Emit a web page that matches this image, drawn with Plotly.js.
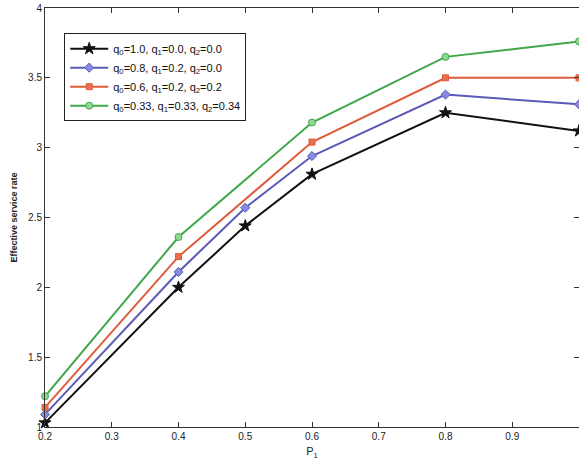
<!DOCTYPE html>
<html><head><meta charset="utf-8">
<script src="https://cdn.plot.ly/plotly-3.0.1.min.js"></script>
<style>body{margin:0;padding:0;background:#fff}#chart{width:579px;height:467px}</style>
</head><body><div id="chart"></div>
<script>
const xFull = [0.2, 0.4, 0.5, 0.6, 0.8, 1.0];
const xSparse = [0.2, 0.4, 0.6, 0.8, 1.0];
const seriesNames = [
  'q<sub>0</sub>=1.0, q<sub>1</sub>=0.0, q<sub>2</sub>=0.0',
  'q<sub>0</sub>=0.8, q<sub>1</sub>=0.2, q<sub>2</sub>=0.0',
  'q<sub>0</sub>=0.6, q<sub>1</sub>=0.2, q<sub>2</sub>=0.2',
  'q<sub>0</sub>=0.33, q<sub>1</sub>=0.33, q<sub>2</sub>=0.34'
];
const series1 = [1.03, 2.00, 2.44, 2.81, 3.25, 3.12];
const series2 = [1.09, 2.11, 2.57, 2.94, 3.38, 3.31];
const series3 = [1.14, 2.22, 3.04, 3.50, 3.50];
const series4 = [1.22, 2.36, 3.18, 3.65, 3.76];
const xTicks = [0.2, 0.3, 0.4, 0.5, 0.6, 0.7, 0.8, 0.9];
const xTickText = ['0.2', '0.3', '0.4', '0.5', '0.6', '0.7', '0.8', '0.9'];
const yTicks = [1, 1.5, 2, 2.5, 3, 3.5, 4];
const yTickText = ['1', '1.5', '2', '2.5', '3', '3.5', '4'];

const styles = [
  {line: '#111111', marker: 'star', fill: '#111111', size: 9},
  {line: '#5a5ab8', marker: 'diamond', fill: '#8a8ae0', size: 7},
  {line: '#e05a3a', marker: 'square', fill: '#e8704e', size: 6},
  {line: '#3fa84a', marker: 'circle', fill: '#8fd890', size: 7}
];
const allX = [xFull, xFull, xSparse, xSparse];
const allSeries = [series1, series2, series3, series4];
const traces = allSeries.map((ys, i) => ({
  x: allX[i], y: ys, name: seriesNames[i], type: 'scatter', mode: 'lines+markers',
  line: {color: styles[i].line, width: 2},
  marker: {symbol: styles[i].marker, size: styles[i].size, color: styles[i].fill,
           line: {color: styles[i].line, width: 1}},
  cliponaxis: false
}));

const layout = {
  width: 579, height: 467,
  margin: {l: 45, r: 0, t: 8, b: 40},
  paper_bgcolor: '#ffffff', plot_bgcolor: '#ffffff',
  font: {family: 'Liberation Sans, Arial, sans-serif', color: '#222', size: 10},
  showlegend: true,
  legend: {x: 0.036, y: 0.94, xanchor: 'left', yanchor: 'top',
    bgcolor: '#ffffff', bordercolor: '#222', borderwidth: 1,
    font: {size: 11, color: '#111'}, tracegroupgap: 0, itemwidth: 38},
  xaxis: {range: [0.2, 1.0], tickvals: xTicks, ticktext: xTickText,
    showline: true, linecolor: '#333', linewidth: 1, mirror: 'ticks',
    ticks: 'inside', ticklen: 5, tickcolor: '#333', showgrid: false, zeroline: false,
    tickfont: {size: 10, color: '#222'},
    title: {text: 'P<sub>1</sub>', font: {size: 11, color: '#222'}, standoff: 6}},
  yaxis: {range: [1, 4], tickvals: yTicks, ticktext: yTickText,
    showline: true, linecolor: '#333', linewidth: 1, mirror: 'ticks',
    ticks: 'inside', ticklen: 5, tickcolor: '#333', showgrid: false, zeroline: false,
    tickfont: {size: 10, color: '#222'},
    title: {text: '<b>Effective service rate</b>', font: {size: 9, color: '#222'}, standoff: 8}}
};
Plotly.newPlot('chart', traces, layout, {displayModeBar: false, staticPlot: true});
</script></body></html>
